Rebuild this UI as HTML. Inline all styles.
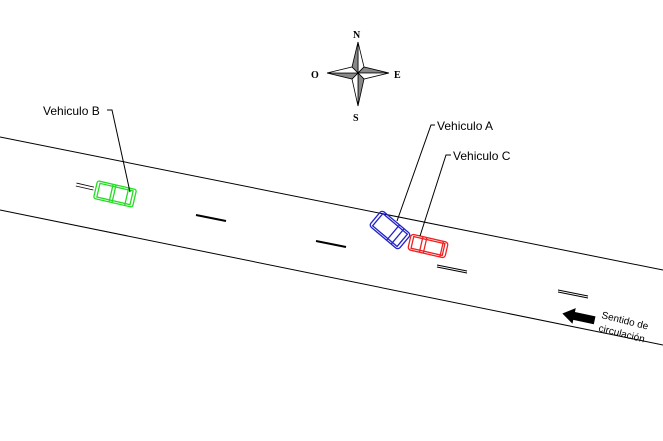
<!DOCTYPE html>
<html><head><style>
body{margin:0;background:#fff;width:663px;height:441px;overflow:hidden}
svg{display:block}
.s{font-family:"Liberation Sans",Arial,sans-serif}
.c{font-family:"Liberation Serif",serif;font-weight:bold}
</style></head><body>
<svg width="663" height="441" viewBox="0 0 663 441">
<!-- road -->
<line x1="0" y1="137" x2="663" y2="270" stroke="#000" stroke-width="1"/>
<line x1="0" y1="210" x2="663" y2="345" stroke="#000" stroke-width="1"/>
<g stroke="#000" stroke-width="1">
<line x1="196" y1="215" x2="226" y2="221" stroke-width="2"/>
<line x1="316" y1="241" x2="346" y2="247" stroke-width="2"/>
<line x1="437" y1="265" x2="467" y2="271"/><line x1="437" y1="267" x2="467" y2="273"/>
<line x1="558" y1="290" x2="588" y2="296"/><line x1="558" y1="292" x2="588" y2="298"/>
</g>
<!-- compass -->
<g stroke="#000" stroke-width="0.8">
<polygon points="358,42 364,67 358,73" fill="#fff"/>
<polygon points="358,42 352,67 358,73" fill="#888"/>
<polygon points="389,73 364,67 358,73" fill="#888"/>
<polygon points="389,73 364,79 358,73" fill="#fff"/>
<polygon points="358,106 364,79 358,73" fill="#888"/>
<polygon points="358,106 352,79 358,73" fill="#fff"/>
<polygon points="327,73 352,79 358,73" fill="#888"/>
<polygon points="327,73 352,67 358,73" fill="#fff"/>
</g>
<g class="c" font-size="10">
<text x="353" y="38">N</text><text x="353" y="121">S</text>
<text x="311" y="78">O</text><text x="394" y="78">E</text>
</g>
<!-- green car -->
<g transform="translate(115,194) rotate(13)" stroke="#2d2" stroke-width="1.3" fill="none">
<rect x="-20" y="-9" width="40" height="18" rx="2"/>
<rect x="-17" y="-7" width="34" height="14"/>
<line x1="-4" y1="-9" x2="-4" y2="9"/><line x1="-1" y1="-9" x2="-1" y2="9"/>
<line x1="12" y1="-9" x2="12" y2="9"/>
<line x1="-22" y1="-2" x2="-40" y2="-2" stroke="#000" stroke-width="0.8"/>
<line x1="-22" y1="1" x2="-40" y2="1" stroke="#000" stroke-width="0.8"/>
</g>
<!-- blue car -->
<g transform="translate(390,230) rotate(40)" stroke="#22c" stroke-width="1.3" fill="none">
<rect x="-19" y="-10" width="38" height="20" rx="3"/>
<rect x="-16" y="-8" width="32" height="16"/>
<line x1="4" y1="-10" x2="4" y2="10"/><line x1="10" y1="-10" x2="10" y2="10"/>
</g>
<!-- red car -->
<g transform="translate(428,246) rotate(13)" stroke="#e22" stroke-width="1.3" fill="none">
<rect x="-19" y="-8" width="38" height="16" rx="3"/>
<rect x="-16" y="-6" width="32" height="12"/>
<line x1="-7" y1="-8" x2="-7" y2="8"/><line x1="-3" y1="-8" x2="-3" y2="8"/>
<line x1="14" y1="-8" x2="14" y2="8"/>
</g>
<!-- leaders -->
<g stroke="#000" stroke-width="1" fill="none">
<polyline points="107,110 112,110 130,192"/>
<polyline points="435,125 431,125 397,221"/>
<polyline points="451,155 446,155 420,236"/>
</g>
<g class="s" font-size="12" fill="#000">
<text x="43" y="115">Vehiculo B</text>
<text x="437" y="130">Vehiculo A</text>
<text x="453" y="160">Vehiculo C</text>
</g>
<!-- direction arrow -->
<g transform="translate(579,317) rotate(12)">
<polygon points="-17,0 -5,-8 -5,-4 16,-4 16,4 -5,4 -5,8" fill="#000"/>
</g>
<g class="s" font-size="10" fill="#000">
<text x="601" y="318" transform="rotate(14 601 318)">Sentido de</text>
<text x="598" y="331" transform="rotate(14 598 331)">circulación</text>
</g>
</svg>
</body></html>
